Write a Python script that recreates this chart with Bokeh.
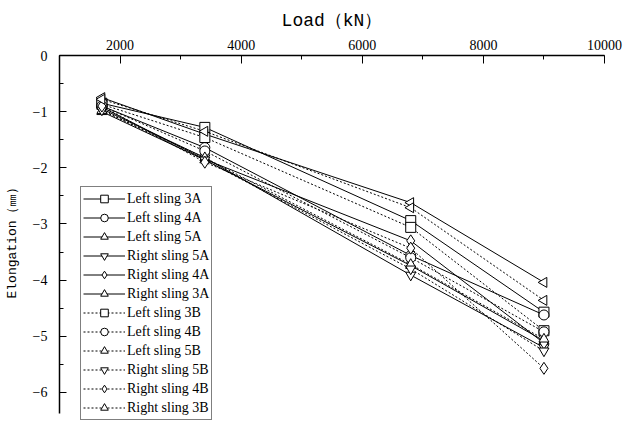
import math
from bokeh.plotting import figure
from bokeh.models import Range1d, Legend, LegendItem, FixedTicker
from bokeh.embed import file_html
from bokeh.resources import INLINE

load_kn = [1700, 3400, 6800, 9000]

left_sling_3a = [-0.85, -1.28, -2.94, -4.57]
left_sling_4a = [-0.90, -1.64, -3.56, -4.62]
left_sling_5a = [-1.00, -1.86, -3.74, -5.08]
right_sling_5a = [-0.95, -1.82, -3.91, -5.20]
right_sling_4a = [-0.92, -1.85, -3.30, -5.12]
right_sling_3a = [-0.75, -1.40, -2.62, -4.04]
left_sling_3b = [-0.87, -1.46, -3.06, -4.90]
left_sling_4b = [-0.90, -1.70, -3.60, -4.92]
left_sling_5b = [-0.98, -1.82, -3.72, -5.05]
right_sling_5b = [-0.97, -1.86, -3.80, -5.26]
right_sling_4b = [-0.90, -1.90, -3.43, -5.57]
right_sling_3b = [-0.78, -1.35, -2.71, -4.36]

series_names = ["Left sling 3A", "Left sling 4A", "Left sling 5A", "Right sling 5A",
                "Right sling 4A", "Right sling 3A", "Left sling 3B", "Left sling 4B",
                "Left sling 5B", "Right sling 5B", "Right sling 4B", "Right sling 3B"]
series_values = [left_sling_3a, left_sling_4a, left_sling_5a, right_sling_5a,
                 right_sling_4a, right_sling_3a, left_sling_3b, left_sling_4b,
                 left_sling_5b, right_sling_5b, right_sling_4b, right_sling_3b]

x_ticks = [2000, 4000, 6000, 8000, 10000]
y_ticks = [0, -1, -2, -3, -4, -5, -6]
y_tick_labels = ["0", "\u22121", "\u22122", "\u22123", "\u22124", "\u22125", "\u22126"]

# (marker, angle)
markers = [("square", 0), ("circle", 0), ("triangle", 0), ("inverted_triangle", 0),
           ("diamond", 0), ("triangle", math.pi / 2)] * 2
dashes = ["solid"] * 6 + ["2 2"] * 6

FONT = "Liberation Serif"
LABEL_FONT = "Liberation Mono"

p = figure(width=626, height=424, output_backend="svg", toolbar_location=None,
           x_axis_location="above",
           x_range=Range1d(1000, 10000), y_range=Range1d(-6.57, 0),
           min_border_left=59, min_border_right=22, min_border_top=55, min_border_bottom=0)
p.outline_line_color = None
p.xgrid.visible = False
p.ygrid.visible = False

items = []
for name, vals, (mk, ang), dash in zip(series_names, series_values, markers, dashes):
    r_line = p.line(load_kn, vals, line_color="black", line_width=1, line_dash=dash)
    r_mk = p.scatter(load_kn, vals, marker=mk, angle=ang, size=10 if mk != "diamond" else 12,
                     line_color="black", fill_color="white", line_width=1)
    items.append(LegendItem(label=name, renderers=[r_line, r_mk]))

legend = Legend(items=items, location=(21, 4), border_line_color="black", border_line_width=1,
                background_fill_alpha=1, label_text_font=FONT, label_text_font_size="14px",
                label_text_color="black",
                glyph_width=42, glyph_height=19, label_height=19, spacing=0,
                padding=2, margin=0, label_standoff=2)
p.add_layout(legend, "center")

xa = p.xaxis[0]
xa.ticker = FixedTicker(ticks=x_ticks, minor_ticks=list(range(1000, 10001, 1000)))
xa.axis_label = "Load\uff08kN\uff09"
xa.axis_label_text_font = LABEL_FONT
xa.axis_label_text_font_size = "18px"
xa.axis_label_text_font_style = "normal"
xa.axis_label_text_color = "black"
xa.axis_label_standoff = 6
xa.major_label_text_font = FONT
xa.major_label_text_font_size = "14px"
xa.major_label_text_color = "black"
xa.major_label_standoff = 6
xa.major_tick_in = 8
xa.major_tick_out = 0
xa.minor_tick_in = 4
xa.minor_tick_out = 0
xa.major_tick_line_color = "black"
xa.minor_tick_line_color = "black"
xa.axis_line_color = "black"
xa.axis_line_width = 1.5

ya = p.yaxis[0]
ya.bounds = (-6.37, 0)
ya.ticker = FixedTicker(ticks=y_ticks, minor_ticks=[-0.5 * i for i in range(0, 13)])
ya.major_label_overrides = {t: l for t, l in zip(y_ticks, y_tick_labels)}
ya.axis_label = "Elongation\uff08\u339c\uff09"
ya.axis_label_text_font = LABEL_FONT
ya.axis_label_text_font_size = "13px"
ya.axis_label_text_font_style = "normal"
ya.axis_label_text_color = "black"
ya.axis_label_standoff = 10
ya.major_label_text_font = FONT
ya.major_label_text_font_size = "14px"
ya.major_label_text_color = "black"
ya.major_label_standoff = 12
ya.major_tick_in = 7
ya.major_tick_out = 0
ya.minor_tick_in = 4
ya.minor_tick_out = 0
ya.major_tick_line_color = "black"
ya.minor_tick_line_color = "black"
ya.axis_line_color = "black"
ya.axis_line_width = 1.5

open("out.html", "w").write(file_html(p, INLINE))
